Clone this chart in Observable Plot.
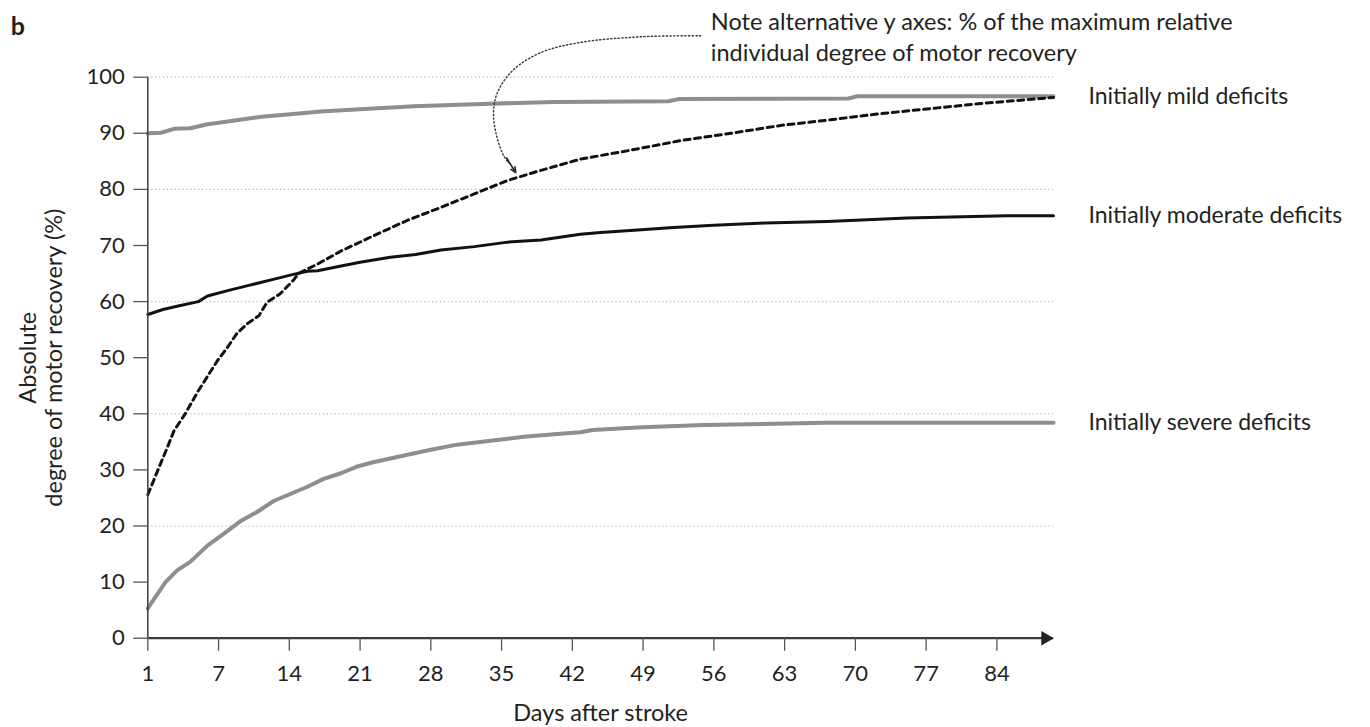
<!DOCTYPE html>
<html>
<head>
<meta charset="utf-8">
<script src="https://cdn.jsdelivr.net/npm/d3@7"></script>
<script src="https://cdn.jsdelivr.net/npm/@observablehq/plot@0.6"></script>
<style>
  html, body { margin: 0; padding: 0; background: #fff; }
  #chart svg { display: block; }
</style>
</head>
<body>
<div id="chart"></div>
<script>
// ---- data (x = days counted from the axis origin, which is labelled "1") ----
const mild = [[0,90.0],[1.3,90.1],[2.6,90.8],[4.2,90.9],[5.9,91.6],[7.9,92.1],[9.8,92.6],[11.5,93.0],[14.1,93.4],[17.1,93.9],[21,94.3],[26.3,94.8],[32.3,95.2],[40.2,95.6],[51.5,95.7],[52.5,96.1],[69.3,96.2],[70.2,96.6],[89.6,96.6]];
const moderate = [[0,57.7],[1.5,58.6],[3,59.2],[5.0,60.0],[5.9,61.0],[8,62.0],[10,62.9],[12.5,64.0],[14.5,64.9],[15.8,65.4],[16.8,65.5],[19,66.3],[21,67.0],[24,67.9],[26.5,68.4],[29,69.2],[32.3,69.8],[35.6,70.6],[38.9,71.0],[42.8,72.0],[44.8,72.3],[48.1,72.7],[52,73.2],[56,73.6],[61.1,74.0],[67.2,74.3],[75.1,74.9],[85,75.3],[89.6,75.3]];
const severe = [[0,5.3],[1.75,10.0],[2.9,12.1],[4.2,13.6],[5.9,16.5],[7.5,18.6],[9.2,20.9],[10.8,22.5],[12.5,24.5],[14.1,25.7],[15.8,27.0],[17.4,28.4],[19.1,29.4],[20.7,30.6],[22.4,31.4],[25.7,32.7],[28,33.6],[30.6,34.5],[33.9,35.2],[37.2,35.9],[40.5,36.4],[42.8,36.7],[44,37.1],[48.9,37.6],[55,38.0],[67,38.4],[89.6,38.4]];
const relative = [[0,25.6],[0.6,28.2],[1.1,30.4],[1.75,33.2],[2.6,37.0],[3.7,40.0],[5.0,44.1],[6.9,49.5],[7.9,51.9],[8.8,54.3],[9.8,56.0],[11.0,57.5],[11.8,59.9],[13.1,61.4],[14.4,63.8],[14.9,65.0],[16.8,66.7],[19.1,69.0],[22.4,71.8],[25.7,74.5],[29,76.8],[32.3,79.2],[35.6,81.6],[38.9,83.4],[42.8,85.4],[47.8,87.0],[52.7,88.7],[57.7,90.0],[62.6,91.4],[67.5,92.4],[72.5,93.5],[77.4,94.4],[82.4,95.3],[89.6,96.4]];

const seriesNames = ["Initially mild deficits", "Initially moderate deficits", "Initially severe deficits"];
const xTickValues = [0, 7, 14, 21, 28, 35, 42, 49, 56, 63, 70, 77, 84];
const xTickLabels = ["1", "7", "14", "21", "28", "35", "42", "49", "56", "63", "70", "77", "84"];
const yTickValues = [0, 10, 20, 30, 40, 50, 60, 70, 80, 90, 100];
const gridValues = [20, 40, 60, 80, 100];
const xEnd = 89.6;

const noteText = "Note alternative y axes: % of the maximum relative\nindividual degree of motor recovery";
const notePos = {x: 55.7, y: 107.4};
const callout = [[54.7,107.4],[48.7,107.2],[42.8,106.2],[38.9,104.4],[36.1,101.2],[34.6,97.3],[34.2,93.7],[34.5,89.6],[35.2,86.0],[35.8,84.6]];
const calloutHead = {x1: 35.5, y1: 85.6, x2: 36.4, y2: 83.0};

// ---- build tables ----
const toRows = (arr) => arr.map(([d, v]) => ({day: d, value: v}));
const ends = [
  {name: seriesNames[0], ...toRows(mild).at(-1)},
  {name: seriesNames[1], ...toRows(moderate).at(-1)},
  {name: seriesNames[2], ...toRows(severe).at(-1)}
];

const gray = "#8d8f8f";
const ink = "#231f20";
const axisInk = "#3c3c3c";
const fs = 23;

const chart = Plot.plot({
  width: 1370,
  height: 727,
  marginLeft: 147.3,
  marginRight: 317,
  marginTop: 76.7,
  marginBottom: 89.3,
  x: {domain: [0, xEnd]},
  y: {domain: [0, 100]},
  style: {fontFamily: "Lato, 'Open Sans', sans-serif", fontSize: "22px", color: ink, background: "#fff"},
  marks: [
    Plot.ruleY(gridValues, {stroke: "#b9b9b9", strokeWidth: 1.2, strokeDasharray: "1.3,2.6"}),
    Plot.line(toRows(severe), {x: "day", y: "value", stroke: gray, strokeWidth: 4, strokeLinejoin: "round"}),
    Plot.line(toRows(mild), {x: "day", y: "value", stroke: gray, strokeWidth: 4, strokeLinejoin: "round"}),
    Plot.line(toRows(moderate), {x: "day", y: "value", stroke: "#111", strokeWidth: 3, strokeLinejoin: "round"}),
    Plot.line(toRows(relative), {x: "day", y: "value", stroke: "#111", strokeWidth: 3, strokeDasharray: "6,4.5"}),
    // axes
    Plot.ruleX([0], {y1: 0, y2: 100, stroke: axisInk, strokeWidth: 1.5}),
    Plot.ruleY([0], {stroke: axisInk, strokeWidth: 2.2}),
    Plot.dot([{day: xEnd, value: 0}], {x: "day", y: "value", symbol: "triangle", r: 5.4, rotate: 90, fill: "#222", stroke: "none", dx: -8}),
    Plot.axisY(yTickValues, {tickSize: 14, tickPadding: 9, fontSize: 22, stroke: "#555", strokeWidth: 1.3, label: null}),
    Plot.axisX(xTickValues, {tickSize: 13, tickPadding: 14, fontSize: 22, stroke: "#555", strokeWidth: 1.3, label: null,
      tickFormat: d => xTickLabels[xTickValues.indexOf(d)]}),
    // series labels
    Plot.text(ends, {x: "day", y: "value", text: "name", dx: 35, textAnchor: "start", fontSize: fs, fill: ink}),
    // annotation
    Plot.line(toRows(callout), {x: "day", y: "value", curve: "catmull-rom", stroke: "#333", strokeWidth: 1.4, strokeDasharray: "1.3,2.4"}),
    Plot.arrow([calloutHead], {x1: "x1", y1: "y1", x2: "x2", y2: "y2", stroke: "#222", strokeWidth: 1.6, headLength: 13, headAngle: 50}),
    Plot.text([notePos], {x: "x", y: "y", text: [noteText], textAnchor: "start", lineAnchor: "middle", lineHeight: 1.32, fontSize: 23.5, fill: ink}),
    // axis titles and panel letter
    Plot.text(["Absolute\ndegree of motor recovery (%)"], {frameAnchor: "left", dx: -107, rotate: -90, textAnchor: "middle", lineAnchor: "middle", lineHeight: 1.12, fontSize: 23.5, fill: ink}),
    Plot.text(["Days after stroke"], {frameAnchor: "bottom", dy: 75, textAnchor: "middle", lineAnchor: "middle", fontSize: 23.5, fill: ink}),
    Plot.text(["b"], {frameAnchor: "top-left", dx: -137, dy: -50, textAnchor: "start", lineAnchor: "middle", fontSize: 25, fontWeight: "bold", fill: ink})
  ]
});
document.getElementById("chart").append(chart);
</script>
</body>
</html>
